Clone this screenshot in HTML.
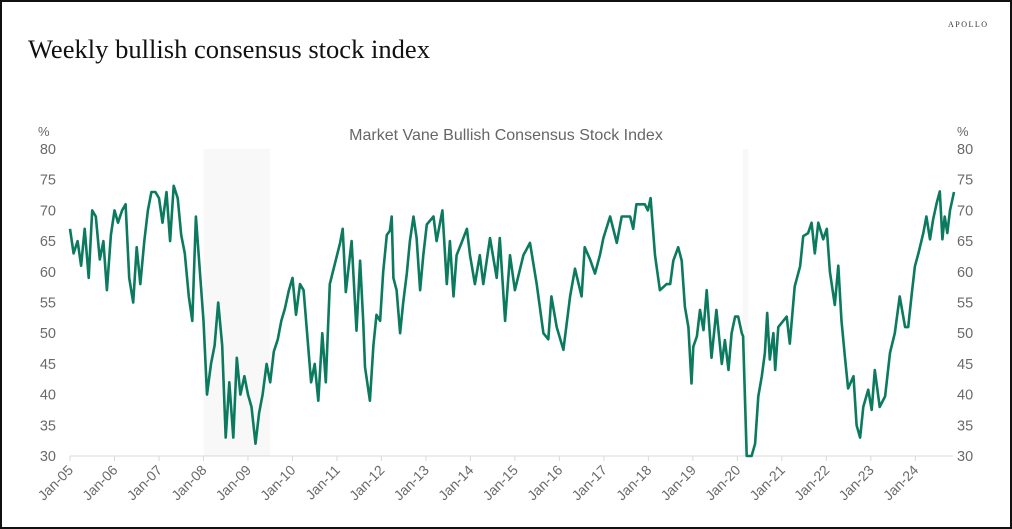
<!DOCTYPE html>
<html><head><meta charset="utf-8"><style>
html,body{margin:0;padding:0;background:#fff;}
#wrap{position:relative;width:1012px;height:529px;box-sizing:border-box;border:2px solid #111;overflow:hidden;background:#fff;}
svg{position:absolute;left:-2px;top:-2px;}
</style></head><body>
<div id="wrap">
<svg id="chart" width="1012" height="529" font-family="'Liberation Sans', sans-serif">
<text x="28" y="58" font-family="'Liberation Serif', serif" font-size="26" fill="#111" textLength="402" lengthAdjust="spacingAndGlyphs">Weekly bullish consensus stock index</text>
<text x="948" y="27" font-family="'Liberation Serif', serif" font-size="8" letter-spacing="1.5" fill="#333">APOLLO</text>
<text x="506" y="140" text-anchor="middle" font-size="16" fill="#666">Market Vane Bullish Consensus Stock Index</text>
<text x="38" y="136" font-size="13" fill="#666">%</text>
<text x="957" y="136" font-size="13" fill="#666">%</text>
<g id="rec"></g><g id="grid"></g><g id="axes"></g><g id="series"></g>
</svg>
</div>
<script>
const yTicks = [30,35,40,45,50,55,60,65,70,75,80];
const xTickYears = [2005,2006,2007,2008,2009,2010,2011,2012,2013,2014,2015,2016,2017,2018,2019,2020,2021,2022,2023,2024];
const xTickLabels = ["Jan-05","Jan-06","Jan-07","Jan-08","Jan-09","Jan-10","Jan-11","Jan-12","Jan-13","Jan-14","Jan-15","Jan-16","Jan-17","Jan-18","Jan-19","Jan-20","Jan-21","Jan-22","Jan-23","Jan-24"];
const recessionStart = [2008.0, 2020.12];
const recessionEnd = [2009.5, 2020.25];
const dates = [
2005.00,2005.08,2005.17,2005.25,2005.33,2005.42,2005.50,2005.58,2005.67,2005.75,2005.83,2005.92,
2006.00,2006.08,2006.17,2006.25,2006.33,2006.42,2006.50,2006.58,2006.67,2006.75,2006.83,2006.92,
2007.00,2007.08,2007.17,2007.25,2007.33,2007.42,2007.50,2007.58,2007.67,2007.75,2007.83,2007.92,
2008.00,2008.08,2008.17,2008.25,2008.33,2008.42,2008.50,2008.58,2008.67,2008.75,2008.83,2008.92,
2009.00,2009.08,2009.17,2009.25,2009.33,2009.42,2009.50,2009.58,2009.67,2009.75,2009.83,2009.92,
2010.00,2010.08,2010.17,2010.25,2010.33,2010.42,2010.50,2010.58,2010.67,2010.75,
2010.84,2011.07,2011.13,2011.20,2011.33,2011.44,2011.52,2011.59,2011.63,2011.74,2011.82,2011.89,2011.97,
2012.04,2012.12,2012.19,2012.23,2012.27,2012.34,2012.42,2012.49,2012.57,2012.64,2012.72,2012.79,2012.87,2012.94,
2013.02,2013.17,2013.24,2013.37,2013.47,2013.54,2013.62,2013.69,2013.80,2013.92,2013.99,
2014.10,2014.21,2014.29,2014.44,2014.59,2014.66,2014.78,2014.89,2015.00,2015.19,2015.34,2015.49,2015.64,2015.75,2015.82,2015.94,
2016.09,2016.24,2016.35,2016.50,2016.57,2016.69,2016.80,2016.91,2016.99,2017.14,2017.29,2017.40,2017.59,2017.66,2017.73,2017.92,2017.99,
2018.05,2018.15,2018.26,2018.41,2018.49,2018.56,2018.67,2018.75,2018.82,2018.90,2018.97,
2019.01,2019.09,2019.16,2019.24,2019.31,2019.42,2019.53,2019.65,2019.72,2019.80,2019.87,2019.95,
2020.02,2020.10,2020.13,2020.21,2020.32,2020.40,2020.47,2020.55,2020.62,2020.67,2020.73,2020.81,2020.85,2020.92,
2021.03,2021.11,2021.18,2021.29,2021.41,2021.48,2021.59,2021.67,2021.74,2021.82,2021.93,
2022.01,2022.08,2022.19,2022.27,2022.34,2022.42,2022.49,2022.61,2022.68,2022.76,2022.83,2022.94,
2023.02,2023.09,2023.20,2023.32,2023.43,2023.54,2023.65,2023.77,2023.84,2023.92,2023.99,
2024.07,2024.18,2024.25,2024.33,2024.40,2024.48,2024.55,2024.61,2024.66,2024.72,2024.78,2024.84,2024.87];
const values = [
67,63,65,61,67,59,70,69,62,65,57,66,
70,68,70,71,59,55,64,58,65,70,73,73,
72,68,73,65,74,72,66,63,56,52,69,60,
52,40,45,48,55,48,33,42,33,46,40,43,
40,38,32,37,40,45,42,47,49,52,54,57,
59,53,58,57,50,42,45,39,50,42,
58,64.7,67,56.7,65,50.4,61.8,52,44.5,39,48,53,52,
60,66,66.7,69,59,57,50,55,59.7,65,69,65.5,57,62.7,
67.7,69,65,70,58,65,56,62.7,64.7,67,62.7,
58,62.7,58,65.5,59,65.5,52,62.7,57,62.7,64.7,58,50,49,56,51,
47.3,56,60.5,56,64,62,59.7,62.7,65.5,69,64.7,69,69,67,71,71,70,
72,62.7,57,58,58,61.8,64,61.8,54.3,51,41.8,
47.8,49.5,53.8,50.5,57,46,53.8,45,48.9,44,50,52.7,
52.7,50,49.5,30,30,32,39.7,43,46.8,53.3,45.7,50,44,51,
52,52.7,48.3,57.6,60.9,65.8,66.3,68,63,68,65.3,
67,60,54.6,61,52,46,41,43,35,33,38,40.8,
37.5,44,38,39.7,46.8,50,56,51,51,56.5,60.9,
63,66.3,69,65.3,68.5,71.2,73.1,65.3,69,66.3,70,72,73];

const X0=70, X1=953, PY0=149, PY1=456;
const xScale = yr => X0 + (yr-2005)*44.49;
const yScale = v => PY1 - (v-30)/50*(PY1-PY0);
const NS='http://www.w3.org/2000/svg';
function mk(tag, attrs, parent){const e=document.createElementNS(NS,tag);for(const k in attrs)e.setAttribute(k,attrs[k]);parent.appendChild(e);return e;}
const rec=document.getElementById('rec'), grid=document.getElementById('grid'), axes=document.getElementById('axes'), series=document.getElementById('series');
recessionStart.forEach((s,i)=>{
  const r=mk('rect',{x:xScale(s),y:PY0,width:xScale(recessionEnd[i])-xScale(s),height:PY1-PY0,fill:'#f8f8f8'},rec);
  
  
});
yTicks.forEach(t=>{
  const y=yScale(t);
  const l=mk('text',{x:56,y:y+5,'text-anchor':'end','font-size':14.5,fill:'#6a6a6a'},axes);l.textContent=t;
  
  
  const r=mk('text',{x:957,y:y+5,'font-size':14.5,fill:'#6a6a6a'},axes);r.textContent=t;
  
  
});
const base=mk('line',{x1:X0,y1:PY1,x2:X1,y2:PY1,stroke:'#d9d9d9','stroke-width':1},axes);


xTickYears.forEach((yr,i)=>{
  const x=xScale(yr);
  const tk=mk('line',{x1:x,y1:PY1,x2:x,y2:PY1+5,stroke:'#d9d9d9'},axes);
  
  
  const t=mk('text',{x:x+4,y:PY1+15,'text-anchor':'end','font-size':14,fill:'#6a6a6a',transform:`rotate(-45 ${x+4} ${PY1+15})`},axes);
  t.textContent=xTickLabels[i];
  
  
});
const d=dates.map((yr,i)=>(i?'L':'M')+xScale(yr).toFixed(1)+' '+yScale(values[i]).toFixed(1)).join(' ');
const p=mk('path',{d:d,fill:'none',stroke:'#0b7a5e','stroke-width':2.6,'stroke-linejoin':'round'},series);


</script>
</body></html>
